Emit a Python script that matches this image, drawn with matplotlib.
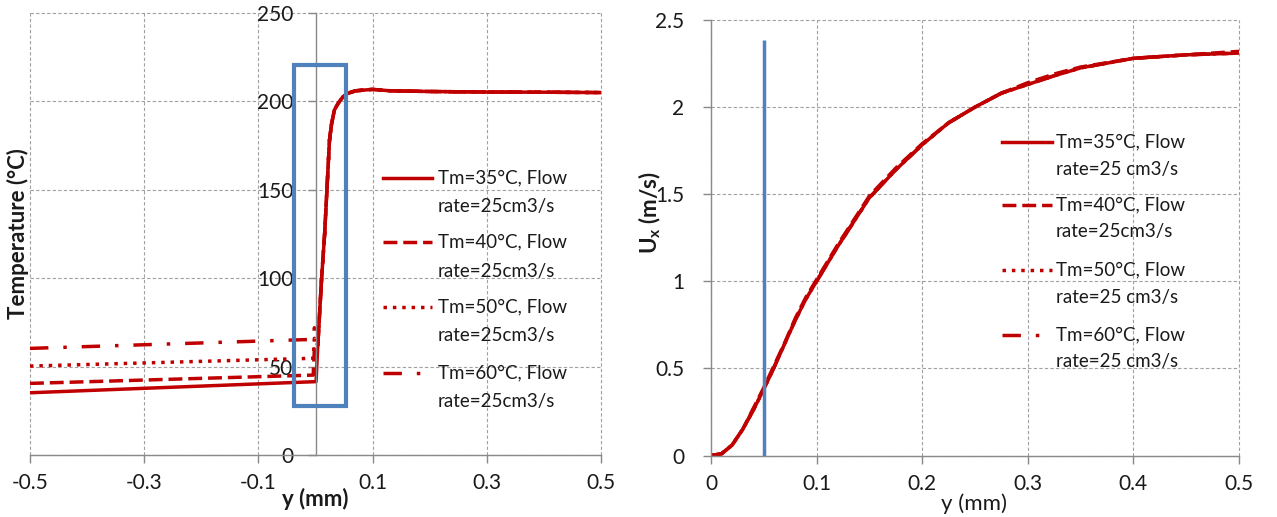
import matplotlib
matplotlib.use("Agg")
import matplotlib.pyplot as plt
from matplotlib.patches import Rectangle
from matplotlib.lines import Line2D

plt.rcParams["font.family"] = ["Lato", "DejaVu Sans"]

W, H = 1277, 517
RED = "#C00000"
BLUE = "#4F81BD"
GRID = "#A0A0A0"
SPINE = "#898989"
TXT = "#1a1a1a"

# ---- temperature profiles (left) ----
# low side of the interface, per case
y_low_35 = [-0.5, 0.001]
t_low_35 = [35.2, 41.5]
y_low_40 = [-0.5, -0.004, -0.002]
t_low_40 = [40.5, 45.2, 60.0]
y_low_50 = [-0.5, -0.004, -0.002]
t_low_50 = [50.3, 54.7, 66.0]
y_low_60 = [-0.5, -0.004, -0.002]
t_low_60 = [60.3, 65.4, 72.0]
# common rise and plateau
y_rise = [0.004, 0.0107, 0.016, 0.020, 0.0245, 0.028, 0.033, 0.038, 0.042,
          0.048, 0.056, 0.070, 0.100, 0.130, 0.200, 0.300, 0.400, 0.500]
t_rise = [62.0, 100.0, 125.0, 150.0, 178.0, 187.0, 195.0, 198.0, 200.0,
          202.5, 204.5, 206.0, 206.8, 206.0, 205.6, 205.3, 205.2, 205.0]

# ---- velocity profiles (right) ----
y_u = [0.0, 0.01, 0.02, 0.03, 0.04, 0.05, 0.06, 0.07, 0.08, 0.09, 0.10,
       0.12, 0.15, 0.175, 0.20, 0.225, 0.25, 0.275, 0.30, 0.325, 0.35,
       0.40, 0.45, 0.50]
ux_35 = [0.0, 0.01, 0.06, 0.15, 0.26, 0.38, 0.51, 0.645, 0.78, 0.90, 1.00,
         1.20, 1.48, 1.64, 1.784, 1.91, 2.00, 2.08, 2.13, 2.18, 2.225,
         2.28, 2.30, 2.31]
ux_40 = [0.0, 0.01, 0.06, 0.15, 0.27, 0.39, 0.52, 0.65, 0.79, 0.91, 1.01,
         1.21, 1.49, 1.65, 1.79, 1.91, 2.00, 2.08, 2.14, 2.19, 2.23,
         2.28, 2.30, 2.32]
ux_50 = [0.0, 0.01, 0.06, 0.15, 0.26, 0.38, 0.51, 0.645, 0.78, 0.90, 1.00,
         1.20, 1.48, 1.64, 1.784, 1.91, 2.00, 2.08, 2.13, 2.18, 2.225,
         2.28, 2.30, 2.31]
ux_60 = [0.0, 0.01, 0.06, 0.15, 0.26, 0.38, 0.51, 0.645, 0.78, 0.90, 1.00,
         1.20, 1.48, 1.64, 1.784, 1.91, 2.00, 2.08, 2.13, 2.18, 2.225,
         2.28, 2.30, 2.31]

labels_left = ["Tm=35°C, Flow\nrate=25cm3/s", "Tm=40°C, Flow\nrate=25cm3/s",
               "Tm=50°C, Flow\nrate=25cm3/s", "Tm=60°C, Flow\nrate=25cm3/s"]
labels_right = ["Tm=35°C, Flow\nrate=25 cm3/s", "Tm=40°C, Flow\nrate=25cm3/s",
                "Tm=50°C, Flow\nrate=25 cm3/s", "Tm=60°C, Flow\nrate=25 cm3/s"]

# highlighted interface region
box_y0, box_y1 = -0.037, 0.054
box_t0, box_t1 = 27.8, 220.5
u_mark_y, u_mark_top = 0.05, 2.385

styles = [
    "-",
    (0, (4, 1.7)),
    (0, (1, 1.7)),
    (0, (5.3, 4.3, 1, 4.3)),
]
LW = 2.5


def style_axes(ax, ypad):
    for s in ("top", "right"):
        ax.spines[s].set_visible(False)
    for s in ("left", "bottom"):
        ax.spines[s].set_color(SPINE)
        ax.spines[s].set_linewidth(1.0)
    ax.grid(True, color=GRID, linestyle=(0, (3, 2)), linewidth=0.8)
    for l in ax.get_xgridlines() + ax.get_ygridlines():
        l.set_clip_on(False)
    ax.tick_params(axis="both", direction="out", length=6, width=1.0,
                   color=SPINE, labelsize=15, labelcolor=TXT)
    ax.tick_params(axis="x", pad=7)
    ax.tick_params(axis="y", pad=ypad)
    ax.set_axisbelow(True)


def fig_legend(fig, x0, x1, xt, ys, dy, labels):
    for (ls, lab, yc) in zip(styles, labels, ys):
        line = Line2D([x0 / W, x1 / W], [1 - yc / H, 1 - yc / H],
                      transform=fig.transFigure, color=RED, lw=LW,
                      linestyle=ls, dash_capstyle="butt")
        fig.add_artist(line)
        for k, part in enumerate(lab.split("\n")):
            fig.text(xt / W, 1 - (yc + k * dy) / H, part, fontsize=13.5,
                     color=TXT, ha="left", va="center")


fig = plt.figure(figsize=(W / 100, H / 100), dpi=100)

# ---------------- left panel ----------------
ax1 = fig.add_axes([30 / W, 1 - 455 / H, 571 / W, 442 / H])
lows = [(y_low_35, t_low_35), (y_low_40, t_low_40),
        (y_low_50, t_low_50), (y_low_60, t_low_60)]
for (yl, tl), ls in zip(lows[::-1], styles[::-1]):
    ax1.plot(yl + y_rise, tl + t_rise, color=RED, lw=LW, linestyle=ls,
             dash_capstyle="butt")
ax1.set_xlim(-0.5, 0.5)
ax1.set_ylim(0, 250)
ax1.set_xticks([-0.5, -0.3, -0.1, 0.1, 0.3, 0.5])
ax1.set_xticklabels(["-0.5", "-0.3", "-0.1", "0.1", "0.3", "0.5"])
ax1.set_yticks([0, 50, 100, 150, 200, 250])
ax1.spines["left"].set_position(("data", 0))
style_axes(ax1, 10)
ax1.add_patch(Rectangle((box_y0, box_t0), box_y1 - box_y0, box_t1 - box_t0,
                        fill=False, edgecolor=BLUE, lw=3, zorder=5))
ax1.set_xlabel("y (mm)", fontsize=16, fontweight="bold", color=TXT)
ax1.xaxis.set_label_coords(0.5, -0.075)
ax1.set_ylabel("Temperature (°C)", fontsize=16, fontweight="bold", color=TXT)
ax1.yaxis.set_label_coords(-0.001, 0.5)
fig_legend(fig, 383, 432, 438, [178, 242, 307, 373], 29, labels_left)

# ---------------- right panel ----------------
ax2 = fig.add_axes([711 / W, 1 - 455.5 / H, 528 / W, 435.5 / H])
for ux, ls in zip([ux_60, ux_50, ux_40, ux_35], styles[::-1]):
    ax2.plot(y_u, ux, color=RED, lw=LW, linestyle=ls, dash_capstyle="butt")
ax2.set_xlim(0, 0.5)
ax2.set_ylim(0, 2.5)
ax2.set_xticks([0, 0.1, 0.2, 0.3, 0.4, 0.5])
ax2.set_xticklabels(["0", "0.1", "0.2", "0.3", "0.4", "0.5"])
ax2.set_yticks([0, 0.5, 1, 1.5, 2, 2.5])
ax2.set_yticklabels(["0", "0.5", "1", "1.5", "2", "2.5"])
style_axes(ax2, 13)
ax2.vlines(u_mark_y, 0, u_mark_top, color=BLUE, lw=2.5, zorder=5)
ax2.set_xlabel("y (mm)", fontsize=16, color=TXT)
ax2.xaxis.set_label_coords(0.498, -0.086)
ax2.set_ylabel(r"U$_\mathregular{x}$ (m/s)", fontsize=16, fontweight="bold",
               color=TXT)
ax2.yaxis.set_label_coords(-0.091, 0.557)
fig_legend(fig, 1002, 1052, 1056, [142, 205, 270, 335], 27, labels_right)

fig.savefig("out.png", dpi=100)
